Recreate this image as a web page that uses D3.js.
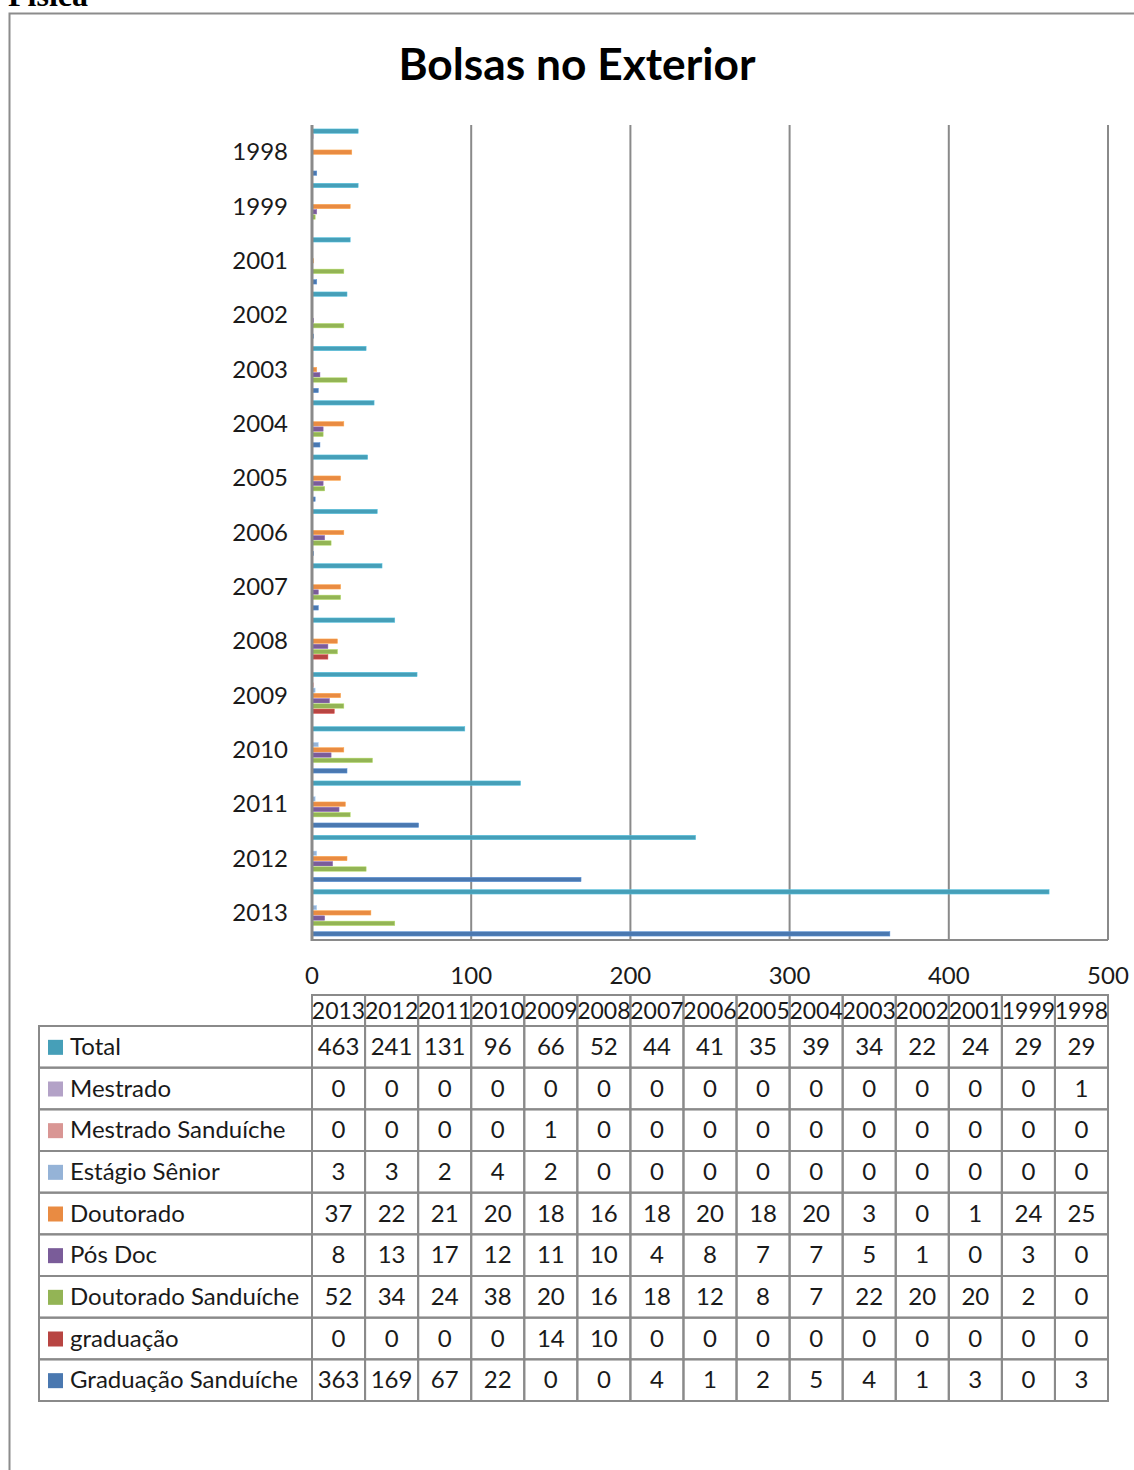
<!DOCTYPE html>
<html><head><meta charset="utf-8">
<script src="https://cdn.jsdelivr.net/npm/d3@7"></script>
<style>body{margin:0;background:#fff}svg{display:block}</style>
</head><body>
<svg id="c" width="1134" height="1470"></svg>
<script>
// ---- data ----
const years = ["2013","2012","2011","2010","2009","2008","2007","2006","2005","2004","2003","2002","2001","1999","1998"];
const seriesNames = ["Total","Mestrado","Mestrado Sanduíche","Estágio Sênior","Doutorado","Pós Doc","Doutorado Sanduíche","graduação","Graduação Sanduíche"];
const total        = [463,241,131,96,66,52,44,41,35,39,34,22,24,29,29];
const mestrado     = [0,0,0,0,0,0,0,0,0,0,0,0,0,0,1];
const mestradoSand = [0,0,0,0,1,0,0,0,0,0,0,0,0,0,0];
const estagio      = [3,3,2,4,2,0,0,0,0,0,0,0,0,0,0];
const doutorado    = [37,22,21,20,18,16,18,20,18,20,3,0,1,24,25];
const posDoc       = [8,13,17,12,11,10,4,8,7,7,5,1,0,3,0];
const doutSand     = [52,34,24,38,20,16,18,12,8,7,22,20,20,2,0];
const graduacao    = [0,0,0,0,14,10,0,0,0,0,0,0,0,0,0];
const gradSand     = [363,169,67,22,0,0,4,1,2,5,4,1,3,0,3];
const seriesValues = [total,mestrado,mestradoSand,estagio,doutorado,posDoc,doutSand,graduacao,gradSand];
const colors = ["#469fb8","#b3a2c7","#d99694","#95b3d7","#e98b42","#7a5c99","#93b455","#b84542","#4a78b0"];
const ticks = [0,100,200,300,400,500];

// ---- layout ----
const svg = d3.select("#c");
const FONT = "Lato, 'Open Sans', sans-serif";
const grid = "#8a8a8a";

// page header text & frame
svg.append("text").attr("x",8).attr("y",6)
  .attr("font-family","'Liberation Serif','Times New Roman',serif").attr("font-weight","bold")
  .attr("font-size",32).attr("fill","#000").text("Física");
svg.append("rect").attr("x",9.5).attr("y",13.5).attr("width",1200).attr("height",1500)
  .attr("fill","none").attr("stroke","#8c8c8c").attr("stroke-width",2);

svg.append("text").attr("x",577).attr("y",80).attr("text-anchor","middle")
  .attr("font-family",FONT).attr("font-weight","bold").attr("font-size",43)
  .attr("textLength",357).attr("lengthAdjust","spacingAndGlyphs")
  .attr("fill","#000").text("Bolsas no Exterior");

const x = d3.scaleLinear().domain([0,500]).range([312,1108]);
const yOrder = years.slice().reverse();
const y = d3.scaleBand().domain(yOrder).range([125,940]).paddingInner(0.13).paddingOuter(0.065);
const ys = d3.scaleBand().domain(seriesNames).range([0,y.bandwidth()]);

// gridlines
svg.append("g").selectAll("line").data(ticks.slice(1)).join("line")
  .attr("x1",d=>x(d)).attr("x2",d=>x(d)).attr("y1",125).attr("y2",940)
  .attr("stroke",grid).attr("stroke-width",2);

// bars
const groups = svg.append("g").selectAll("g").data(years).join("g")
  .attr("transform",d=>`translate(0,${y(d)})`);
groups.selectAll("rect").data((yr,i)=>seriesNames.map((s,k)=>({s,k,v:seriesValues[k][i]})))
  .join("rect")
  .attr("x",x(0)).attr("y",d=>ys(d.s)+0.4).attr("height",ys.bandwidth()-0.8)
  .attr("width",d=>Math.max(0,x(d.v)-x(0))).attr("fill",d=>colors[d.k])
  .attr("stroke",d=>d.v>0?d3.color(colors[d.k]).brighter(0.6):"none").attr("stroke-width",0.5);

// axes lines
svg.append("line").attr("x1",312).attr("x2",1108).attr("y1",940).attr("y2",940).attr("stroke",grid).attr("stroke-width",2);
svg.append("line").attr("x1",312).attr("x2",312).attr("y1",125).attr("y2",941).attr("stroke",grid).attr("stroke-width",3);

// category labels
svg.append("g").selectAll("text").data(yOrder).join("text")
  .attr("x",288).attr("y",d=>y(d)+y.bandwidth()/2+8).attr("text-anchor","end")
  .attr("font-family",FONT).attr("font-size",24).attr("fill","#1a1a1a").text(d=>d);

// value tick labels
svg.append("g").selectAll("text").data(ticks).join("text")
  .attr("x",d=>x(d)).attr("y",984).attr("text-anchor","middle")
  .attr("font-family",FONT).attr("font-size",24).attr("fill","#1a1a1a").text(d=>d);

// ---- data table ----
const col = d3.scaleBand().domain(years).range([312,1108]);
const row = d3.scaleBand().domain(seriesNames).range([1026,1401]);
const tb = svg.append("g");
// header row
tb.selectAll("rect.h").data(years).join("rect").attr("class","h")
  .attr("x",d=>col(d)).attr("y",995).attr("width",col.bandwidth()).attr("height",31)
  .attr("fill","none").attr("stroke",grid).attr("stroke-width",2);
tb.selectAll("text.h").data(years).join("text").attr("class","h")
  .attr("x",d=>col(d)+col.bandwidth()/2).attr("y",1019).attr("text-anchor","middle")
  .attr("font-family",FONT).attr("font-size",23).attr("fill","#1a1a1a").text(d=>d);
// legend column
tb.selectAll("rect.l").data(seriesNames).join("rect").attr("class","l")
  .attr("x",39).attr("y",d=>row(d)).attr("width",312-39).attr("height",row.bandwidth())
  .attr("fill","none").attr("stroke",grid).attr("stroke-width",2);
tb.selectAll("rect.sw").data(seriesNames).join("rect").attr("class","sw")
  .attr("x",48).attr("y",d=>row(d)+row.bandwidth()/2-7).attr("width",15).attr("height",15)
  .attr("fill",(d,i)=>colors[i]);
tb.selectAll("text.l").data(seriesNames).join("text").attr("class","l")
  .attr("x",70).attr("y",d=>row(d)+row.bandwidth()/2+8)
  .attr("font-family",FONT).attr("font-size",24).attr("fill","#1a1a1a").text(d=>d);
// cells
seriesNames.forEach((s,k)=>{
  const g = tb.append("g");
  g.selectAll("rect").data(years).join("rect")
    .attr("x",d=>col(d)).attr("y",row(s)).attr("width",col.bandwidth()).attr("height",row.bandwidth())
    .attr("fill","none").attr("stroke",grid).attr("stroke-width",2);
  g.selectAll("text").data(seriesValues[k]).join("text")
    .attr("x",(d,i)=>col(years[i])+col.bandwidth()/2).attr("y",row(s)+row.bandwidth()/2+8)
    .attr("text-anchor","middle").attr("font-family",FONT).attr("font-size",24).attr("fill","#1a1a1a")
    .text(d=>d);
});
</script>
</body></html>
